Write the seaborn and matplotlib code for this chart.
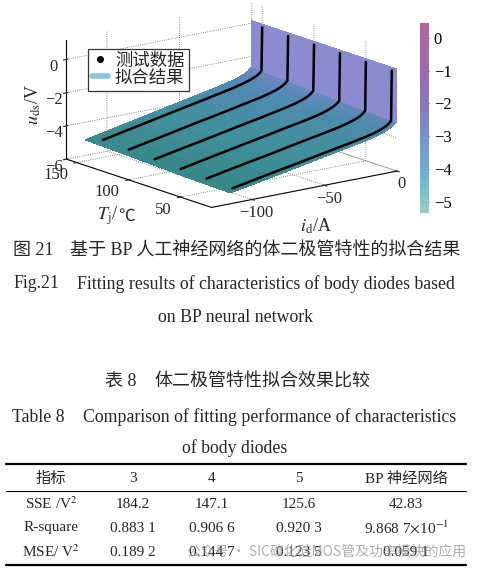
import numpy as np
import matplotlib
matplotlib.use("Agg")
import matplotlib.pyplot as plt
import seaborn as sns
from matplotlib.colors import LinearSegmentedColormap, Normalize
from matplotlib.cm import ScalarMappable
from matplotlib.lines import Line2D

# measured curves (test data), one row per junction temperature
test_tj = [25, 50, 75, 100, 125, 150]
test_id = [-110, -95, -80, -65, -50, -38, -28, -20, -13, -8, -4.5, -2.5, -1.2, -0.5, 0]
test_uds = [
    [-5.26, -5.01, -4.76, -4.52, -4.27, -4.07, -3.91, -3.77, -3.63, -3.49, -3.35, -3.23, -3.13, -3.06, -0.05],
    [-5.20, -4.94, -4.69, -4.45, -4.19, -3.99, -3.83, -3.69, -3.54, -3.40, -3.27, -3.15, -3.05, -2.98, -0.05],
    [-5.14, -4.88, -4.62, -4.37, -4.12, -3.91, -3.75, -3.61, -3.46, -3.32, -3.18, -3.07, -2.97, -2.90, -0.05],
    [-5.07, -4.81, -4.56, -4.30, -4.04, -3.84, -3.66, -3.52, -3.37, -3.23, -3.10, -2.98, -2.88, -2.81, -0.05],
    [-5.01, -4.75, -4.49, -4.22, -3.97, -3.76, -3.58, -3.44, -3.29, -3.15, -3.01, -2.90, -2.80, -2.73, -0.05],
    [-4.95, -4.68, -4.42, -4.15, -3.89, -3.68, -3.50, -3.36, -3.20, -3.06, -2.93, -2.82, -2.72, -2.65, -0.05],
]

# BP network fitted surface
fit_tj = [20, 55, 90, 125, 160]
fit_id = [-115, -100, -85, -70, -55, -40, -28, -18, -11, -6, -3, -1.5, -0.5, 0]
fit_uds = [
    [-5.35, -5.12, -4.87, -4.62, -4.37, -4.12, -3.92, -3.75, -3.58, -3.40, -3.24, -3.14, -3.04, 0.15],
    [-5.30, -5.04, -4.78, -4.53, -4.27, -4.02, -3.82, -3.64, -3.48, -3.30, -3.14, -3.04, -2.94, 0.15],
    [-5.22, -4.96, -4.70, -4.44, -4.18, -3.92, -3.72, -3.54, -3.37, -3.20, -3.05, -2.95, -2.84, 0.15],
    [-5.14, -4.87, -4.61, -4.35, -4.08, -3.82, -3.61, -3.43, -3.27, -3.10, -2.95, -2.85, -2.73, 0.15],
    [-5.06, -4.79, -4.52, -4.26, -3.99, -3.72, -3.51, -3.32, -3.16, -3.00, -2.86, -2.75, -2.63, 0.15],
]

tj_ticks = [50, 100, 150]

# table 8
tbl_header = ["指标", "3", "4", "5", "BP 神经网络"]
tbl_rows = [
    ["SSE /V$^2$", "184.2", "147.1", "125.6", "42.83"],
    ["R-square", "0.883 1", "0.906 6", "0.920 3", "9.868 7$\\times$10$^{-1}$"],
    ["MSE/ V$^2$", "0.189 2", "0.144 7", "0.123 5", "0.059 1"],
]

sns.set_style("white")
plt.rcParams['font.family'] = ['Liberation Serif', 'Noto Sans CJK SC']
plt.rcParams['mathtext.fontset'] = 'stix'
plt.rcParams['grid.linestyle'] = ':'
plt.rcParams['grid.color'] = '#666666'
plt.rcParams['grid.linewidth'] = 0.6
plt.rcParams['axes.unicode_minus'] = True

W, H = 479, 569
fig = plt.figure(figsize=(W / 100, H / 100), dpi=100)


def fx(x):
    return x / W


def fy(y):
    return 1 - y / H


vmin, vmax = -5.35, 0.45
norm = Normalize(vmin, vmax)


def pos(v):
    return (v - vmin) / (vmax - vmin)


bar_cmap = LinearSegmentedColormap.from_list("bar", [
    (pos(-5.35), '#93d2c0'), (pos(-4.3), '#6fb4d6'), (pos(-3.0), '#7592cc'),
    (pos(-2.0), '#8679ba'), (pos(-1.0), '#986bae'), (pos(0.45), '#b8629e')])
surf_cmap = LinearSegmentedColormap.from_list("surf", [
    (pos(-5.35), '#38888a'), (pos(-4.4), '#41909e'), (pos(-3.6), '#4d8aae'),
    (pos(-3.0), '#6a88c2'), (pos(0.45), '#8a8ccf')])

# 3d axes is square; make it big so nothing gets clipped, centred on the plot box
side = 420
cx, cy = 226, 111
ax = fig.add_axes([fx(cx - side / 2), fy(cy + side / 2), fx(side), side / H],
                  projection='3d', proj_type='ortho')
ax.patch.set_alpha(0)
ax.computed_zorder = False
ax.view_init(elev=14.8, azim=-127.5)
ax.set_box_aspect((1, 1.02, 0.529), zoom=1.49 * 232 / side)

X, Y = np.meshgrid(fit_id, fit_tj)
Z = np.array(fit_uds)
fc = surf_cmap(norm(Z))
# steep faces (the wall near id=0) look lighter
slope = np.abs(np.diff(Z, axis=1) / np.diff(X, axis=1)) * 12
wall = np.arctan(slope) > 1.3
fc[:, :-1][wall] = matplotlib.colors.to_rgba('#8a8ccf')
ax.plot_surface(X, Y, Z, facecolors=fc, rstride=1, cstride=1, linewidth=0,
                antialiased=False, shade=False, zorder=1)

for tj, row in zip(test_tj, test_uds):
    ax.plot(test_id, [tj] * len(test_id), row, color='k', lw=1.8, zorder=3)

ax.set_xlim(-128, 0)
ax.set_ylim(20, 160)
ax.set_zlim(-6, 1.2)
ax.set_xticks([-100, -50, 0])
ax.set_yticks(tj_ticks)
ax.set_yticklabels([])
ax.set_zticks([-6, -4, -2, 0])
ax.tick_params(labelsize=12)
ax.tick_params(axis='x', pad=-3)
ax.tick_params(axis='z', pad=-2)
for a in (ax.xaxis, ax.yaxis, ax.zaxis):
    a.set_pane_color((1, 1, 1, 0))
    a.pane.set_edgecolor('#666666')
    a.pane.set_linestyle(':')
    a.line.set_color('k')
    a.line.set_linewidth(0.8)
ax.grid(True)

# Tj tick labels sit a bit further out in the reference, so put them by hand
for t, (x, y) in zip(tj_ticks, [(163, 210), (107, 192), (56, 175)]):
    fig.text(fx(x), fy(y), str(t), fontsize=12, ha='center', va='center')

# axis titles placed like the reference
fig.text(fx(33), fy(105), r"$u_{\rm ds}$/V", fontsize=13, rotation=90, ha='center', va='center')
fig.text(fx(118), fy(216), r"$T_{\rm j}$/", fontsize=13, ha='right', va='center')
fig.text(fx(118), fy(216), "℃", fontsize=12, ha='left', va='center', family=['Noto Sans CJK SC'])
fig.text(fx(316), fy(226), r"$i_{\rm d}$/A", fontsize=13, ha='center', va='center')

handles = [Line2D([], [], marker='.', ls='none', color='k', markersize=8),
           Line2D([], [], color='#88c6dc', lw=4)]
leg = fig.legend(handles, ["测试数据", "拟合结果"], loc='upper left',
                 bbox_to_anchor=(fx(88), fy(49)), fontsize=12.5, frameon=True,
                 fancybox=False, edgecolor='#333333', handlelength=0.9, handletextpad=0.4,
                 borderpad=0.25, labelspacing=0.05, borderaxespad=0, framealpha=1)
leg.get_frame().set_linewidth(0.9)

cax = fig.add_axes([fx(420), fy(213), fx(9), 190 / H])
cb = fig.colorbar(ScalarMappable(norm, bar_cmap), cax=cax, ticks=[0, -1, -2, -3, -4, -5])
cb.outline.set_visible(False)
cax.tick_params(labelsize=12, direction='in', length=2, width=0.6, colors='#333333', labelcolor='k')

# captions
fig.text(fx(13), fy(251), "图 21", fontsize=13, va='center', ha='left')
fig.text(fx(70), fy(251), "基于 BP 人工神经网络的体二极管特性的拟合结果", fontsize=13, va='center', ha='left')
fig.text(fx(13), fy(284), "Fig.21", fontsize=12.8, va='center', ha='left')
fig.text(fx(77), fy(284), "Fitting results of characteristics of body diodes based", fontsize=12.8,
         va='center', ha='left')
fig.text(fx(235), fy(317), "on BP neural network", fontsize=12.8, va='center', ha='center')

fig.text(fx(105), fy(382), "表 8", fontsize=13, va='center', ha='left')
fig.text(fx(154), fy(382), "体二极管特性拟合效果比较", fontsize=13, va='center', ha='left')
fig.text(fx(12), fy(417), "Table 8", fontsize=12.8, va='center', ha='left')
fig.text(fx(83), fy(417), "Comparison of fitting performance of characteristics", fontsize=12.8,
         va='center', ha='left')
fig.text(fx(235), fy(448), "of body diodes", fontsize=12.8, va='center', ha='center')

# table
col_x = [51, 133, 212, 299, 406]
row_y = [479, 504, 528, 552]
for x, t in zip(col_x, tbl_header):
    fig.text(fx(x), fy(row_y[0]), t, fontsize=11, ha='center', va='center')
for y, row in zip(row_y[1:], tbl_rows):
    for x, t in zip(col_x, row):
        fig.text(fx(x), fy(y), t, fontsize=11, ha='center', va='center')
for y, lw in [(464, 1.6), (491, 0.8), (565, 1.6)]:
    fig.add_artist(Line2D([fx(6), fx(466)], [fy(y), fy(y)], color='k', lw=lw))

fig.text(fx(187), fy(552), "公众号 · SIC碳化硅MOS管及功率模块的应用", fontsize=10,
         color='#9a9a9a', alpha=0.8, ha='left', va='center', family=['Noto Sans CJK SC'])

fig.savefig("out.png", dpi=100)
